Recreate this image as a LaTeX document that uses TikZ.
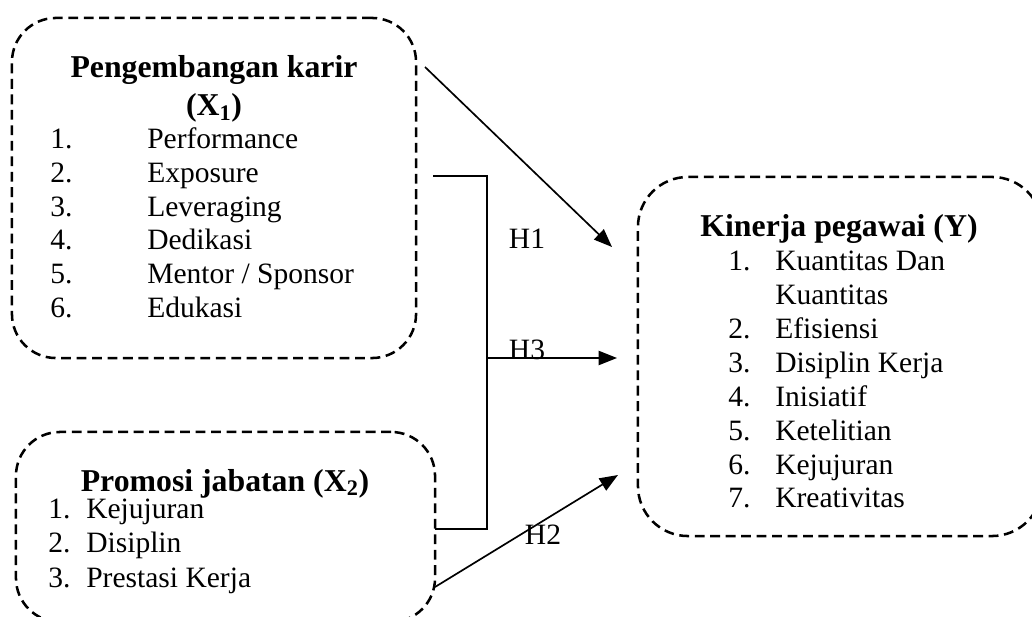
\documentclass[tikz,border=0pt]{standalone}
\usepackage{fontspec}
\setmainfont{Liberation Serif}
\usetikzlibrary{arrows.meta,positioning}
\tikzset{
  varbox/.style={draw,line width=1.8pt,dash pattern=on 7pt off 4pt,rounded corners=1.1cm,inner sep=0pt},
  ttl/.style={font=\fontsize{22.6}{26}\selectfont\bfseries,anchor=base,inner sep=0pt},
  itm/.style={font=\fontsize{21}{24}\selectfont,anchor=base west,inner sep=0pt},
  hyp/.style={font=\fontsize{21}{24}\selectfont,anchor=base,inner sep=0pt},
  link/.style={line width=1.2pt},
  arr/.style={link,-{Triangle[length=13pt,width=10pt]}}
}

\begin{document}
\begin{tikzpicture}[x=0.025cm,y=-0.025cm]
  \useasboundingbox (0,0) rectangle (1032,617);
  \clip (0,0) rectangle (1032,617);
  % variable boxes
  \node[varbox,minimum width=10.1cm,minimum height=8.5cm] (karir) at (214,188) {};
  \node[varbox,minimum width=10.475cm,minimum height=4.75cm] (promosi) at (225.5,527) {};
  \node[varbox,minimum width=10.1cm,minimum height=8.975cm,rounded corners=1.25cm] (kinerja) at (840,356.5) {};
  % titles (baselines)
  \node[ttl] (tkarir) at (214,78) {Pengembangan karir};
  \node[ttl] (tx1) at (214,116) {(X\textsubscript{1})};
  \node[ttl] (tpromosi) at (225,491) {Promosi jabatan (X\textsubscript{2})};
  \node[ttl] (tkinerja) at (839,236) {Kinerja pegawai (Y)};
  % indicators of X1
  \foreach \i/\lbl in {1/Performance,2/Exposure,3/Leveraging,4/Dedikasi,5/{Mentor / Sponsor},6/Edukasi} {
    \node[itm] (na\i) at (50,{149+(\i-1)*33.6}) {\i.};
    \node[itm] (a\i) at (147,{149+(\i-1)*33.6}) {\lbl};
  }
  % indicators of X2
  \foreach \i/\lbl in {1/Kejujuran,2/Disiplin,3/{Prestasi Kerja}} {
    \node[itm] (nb\i) at (48,{518+(\i-1)*34.5}) {\i.};
    \node[itm] (b\i) at (86,{518+(\i-1)*34.5}) {\lbl};
  }
  % indicators of Y
  \foreach \y/\n/\lbl in {270/1/{Kuantitas Dan},338/2/Efisiensi,372/3/{Disiplin Kerja},406/4/Inisiatif,440/5/Ketelitian,474/6/Kejujuran,507/7/Kreativitas} {
    \node[itm] (nc\n) at (728,\y) {\n.};
    \node[itm] (c\n) at (775,\y) {\lbl};
  }
  \node[itm] (c1b) at (775,304) {Kuantitas};
  % bracket joining X1 and X2
  \coordinate (j0) at (433,176);
  \coordinate (j1) at (487,176);
  \coordinate (j3) at (487,358);
  \coordinate (j2) at (487,529);
  \coordinate (j4) at (435,529);
  \draw[link] (j0) -- (j1) -- (j2) -- (j4);
  % hypothesis arrows
  \coordinate (h1s) at (425,67);
  \coordinate (h1e) at (612,247);
  \coordinate (h2s) at (435,587);
  \coordinate (h2e) at (618,475);
  \coordinate (h3e) at (617,358);
  \draw[arr] (h1s) -- (h1e);
  \draw[arr] (j3) -- (h3e);
  \draw[arr] (h2s) -- (h2e);
  \node[hyp] (lh1) at (527,248) {H1};
  \node[hyp] (lh3) at (527,359) {H3};
  \node[hyp] (lh2) at (543,544) {H2};
\end{tikzpicture}
\end{document}
